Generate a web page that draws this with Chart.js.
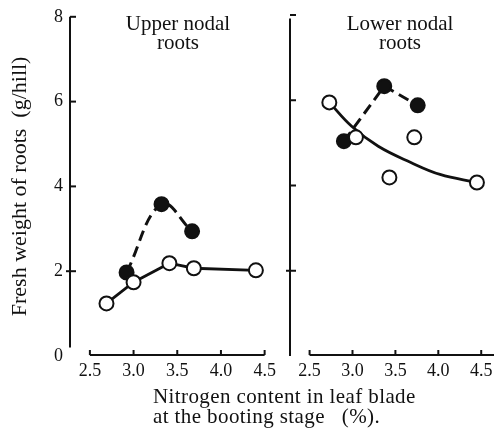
<!DOCTYPE html>
<html><head><meta charset="utf-8">
<script src="https://cdn.jsdelivr.net/npm/chart.js@4/dist/chart.umd.min.js"></script>
<style>
html,body{margin:0;padding:0;background:#fff;}
#wrap{position:relative;width:503px;height:430px;overflow:hidden;font-family:"Liberation Serif","Times New Roman",serif;color:#111;}
canvas{position:absolute;top:0;}
#c1{left:0;}
#c2{left:280px;}
.ptitle{position:absolute;text-align:center;font-size:21px;line-height:19px;white-space:nowrap;}
#xtitle{position:absolute;left:153px;top:386px;font-size:21px;line-height:20px;letter-spacing:0.4px;white-space:pre;}
</style></head>
<body><div id="wrap">
<canvas id="c1" width="280" height="430"></canvas>
<canvas id="c2" width="223" height="430"></canvas>
<div class="ptitle" style="left:118px;top:14px;width:120px;">Upper nodal<br>roots</div>
<div class="ptitle" style="left:340px;top:14px;width:120px;">Lower nodal<br>roots</div>
<div id="xtitle">Nitrogen content in leaf blade
at the booting stage   (%).</div>
</div>
<script>
const xTicks = [2.5, 3.0, 3.5, 4.0, 4.5];
const xTickLabels = ['2.5', '3.0', '3.5', '4.0', '4.5'];
const yTicks = [0, 2, 4, 6, 8];
const yTickLabels = ['0', '2', '4', '6', '8'];
const yTitle = 'Fresh weight of roots  (g/hill)';

// Upper nodal roots
const upperOpenX = [2.69, 3.00, 3.41, 3.69, 4.40];
const upperOpenY = [1.24, 1.74, 2.19, 2.07, 2.02];
const upperFilledX = [2.92, 3.32, 3.67];
const upperFilledY = [1.97, 3.58, 2.94];

// Lower nodal roots
const lowerOpenX = [2.73, 3.04, 3.43, 3.72, 4.45];
const lowerOpenY = [5.95, 5.13, 4.19, 5.13, 4.07];
const lowerFilledX = [2.90, 3.37, 3.76];
const lowerFilledY = [5.04, 6.33, 5.88];
const lowerFitX = [2.73, 2.99, 3.30, 3.68, 4.02, 4.45];
const lowerFitY = [5.95, 5.39, 4.92, 4.54, 4.26, 4.07];

const INK = '#111';
const FONT = '"Liberation Serif","Times New Roman",serif';
const pts = (xs, ys) => xs.map((x, i) => ({x: x, y: ys[i]}));

const axesPlugin = {
  id: 'axesLines',
  beforeDatasetsDraw(chart, args, o) {
    const ctx = chart.ctx, x = chart.scales.x, y = chart.scales.y, a = chart.chartArea;
    ctx.save();
    ctx.strokeStyle = INK;
    ctx.lineWidth = 2;
    ctx.lineCap = 'butt';
    const ax = a.left + 1;
    ctx.beginPath();
    ctx.moveTo(ax, y.getPixelForValue(o.yStart));
    ctx.lineTo(ax, y.getPixelForValue(o.yEnd));
    ctx.stroke();
    yTicks.forEach(v => {
      if (v === 0) return;
      const py = y.getPixelForValue(v);
      ctx.beginPath();
      ctx.moveTo(ax - (v === 2 ? 4 : 0), py);
      ctx.lineTo(ax + 6, py);
      ctx.stroke();
    });
    const by = a.bottom - 1;
    ctx.beginPath();
    ctx.moveTo(x.getPixelForValue(xTicks[0]), by);
    ctx.lineTo(x.getPixelForValue(o.xEnd), by);
    ctx.stroke();
    xTicks.forEach(v => {
      const px = x.getPixelForValue(v);
      ctx.beginPath();
      ctx.moveTo(px, by);
      ctx.lineTo(px, by - 5);
      ctx.stroke();
    });
    ctx.restore();
  }
};

function xScale(min, max) {
  return {
    type: 'linear', min: min, max: max,
    afterBuildTicks: s => { s.ticks = xTicks.map(v => ({value: v})); },
    afterFit: s => { s.height = 74; },
    grid: {display: false, drawTicks: false},
    border: {display: false},
    ticks: {
      callback: (v, i) => xTickLabels[i],
      font: {family: FONT, size: 18}, color: INK, padding: 4,
      maxRotation: 0, autoSkip: false
    }
  };
}

const openStyle = {
  borderColor: INK, borderWidth: 2.8,
  pointRadius: 7, pointHoverRadius: 7, pointBorderWidth: 2,
  pointBackgroundColor: '#fff', pointBorderColor: INK
};
const filledStyle = {
  borderColor: INK, borderWidth: 3,
  pointRadius: 7, pointHoverRadius: 7, pointBorderWidth: 2,
  pointBackgroundColor: INK, pointBorderColor: INK
};

new Chart(document.getElementById('c1'), {
  type: 'line',
  data: {
    datasets: [
      Object.assign({label: 'Upper open', data: pts(upperOpenX, upperOpenY), tension: 0, order: 0}, openStyle),
      Object.assign({label: 'Upper filled', data: pts(upperFilledX, upperFilledY), tension: 0.4, borderDash: [11, 6], order: 1}, filledStyle)
    ]
  },
  options: {
    responsive: false, animation: false, devicePixelRatio: 1,
    layout: {padding: {top: 15, left: 5, right: 12, bottom: 0}},
    plugins: {legend: {display: false}, tooltip: {enabled: false},
      axesLines: {yStart: 8, yEnd: 0.2, xEnd: 4.5}},
    scales: {
      x: xScale(2.261, 4.523),
      y: {
        type: 'linear', min: 0, max: 8,
        afterBuildTicks: s => { s.ticks = yTicks.map(v => ({value: v})); },
        afterFit: s => { s.width = 64; },
        grid: {display: false, drawTicks: false},
        border: {display: false},
        ticks: {callback: (v, i) => yTickLabels[i], font: {family: FONT, size: 18}, color: INK, padding: 6},
        title: {display: true, text: yTitle, font: {family: FONT, size: 22}, color: INK, padding: {top: 2, bottom: 0}}
      }
    }
  },
  plugins: [axesPlugin]
});

new Chart(document.getElementById('c2'), {
  type: 'line',
  data: {
    datasets: [
      Object.assign({label: 'Lower open', data: pts(lowerOpenX, lowerOpenY), showLine: false, order: 0}, openStyle),
      {label: 'Lower fit', data: pts(lowerFitX, lowerFitY), tension: 0.4, borderColor: INK, borderWidth: 2.8, pointRadius: 0, pointHoverRadius: 0, order: 2},
      Object.assign({label: 'Lower filled', data: pts(lowerFilledX, lowerFilledY), tension: 0, borderDash: [11, 6], order: 1}, filledStyle)
    ]
  },
  options: {
    responsive: false, animation: false, devicePixelRatio: 1,
    layout: {padding: {top: 15, left: 6, right: 8, bottom: 0}},
    plugins: {legend: {display: false}, tooltip: {enabled: false},
      axesLines: {yStart: 7.92, yEnd: 0, xEnd: 4.649}},
    scales: {
      x: xScale(2.26, 4.649),
      y: {
        type: 'linear', min: 0, max: 8, display: false,
        afterBuildTicks: s => { s.ticks = yTicks.map(v => ({value: v})); }
      }
    }
  },
  plugins: [axesPlugin]
});
</script>
</body></html>
